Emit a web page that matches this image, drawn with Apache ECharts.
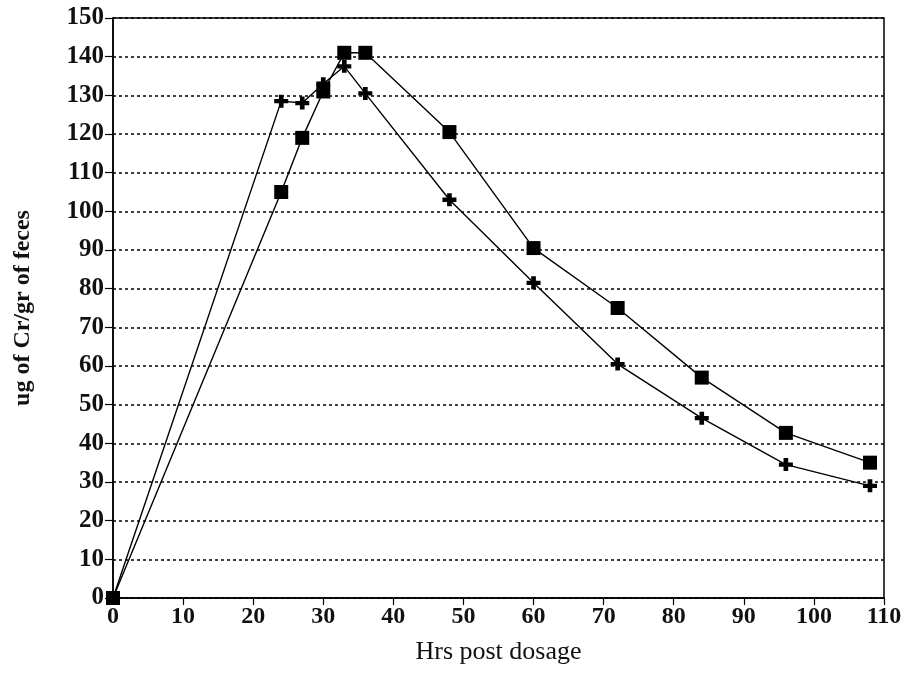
<!DOCTYPE html>
<html>
<head>
<meta charset="utf-8">
<script src="https://cdn.jsdelivr.net/npm/echarts@6/dist/echarts.min.js"></script>
<style>
  html, body { margin: 0; padding: 0; background: #fff; }
  #chart { width: 911px; height: 674px; }
</style>
</head>
<body>
<div id="chart"></div>
<script>
// hours after dosage
const hours = [0, 24, 27, 30, 33, 36, 48, 60, 72, 84, 96, 108];
// square markers
const squareSeries = [0, 105, 119, 131, 141, 141, 120.5, 90.5, 75, 57, 42.7, 35];
// plus markers
const plusSeries = [0, 128.5, 128, 133, 137.5, 130.5, 103, 81.5, 60.5, 46.5, 34.5, 29];

const plusPath = "path://M4,0 H8 V4 H12 V8 H8 V12 H4 V8 H0 V4 H4 Z";
const serif = "'Liberation Serif', 'DejaVu Serif', serif";

const chart = echarts.init(document.getElementById("chart"));

chart.setOption({
  animation: false,
  backgroundColor: "#fff",
  grid: {
    left: 113, right: 27, top: 18, bottom: 76,
    show: true, borderColor: "#000", borderWidth: 1.5
  },
  xAxis: {
    type: "value",
    min: 0, max: 110, interval: 10,
    name: "Hrs post dosage",
    nameLocation: "middle",
    nameGap: 41,
    nameTextStyle: { fontFamily: serif, fontSize: 26, color: "#111" },
    axisLine: { lineStyle: { color: "#000", width: 1.5 } },
    axisTick: { show: true, inside: false, length: 7, lineStyle: { color: "#000", width: 1.2 } },
    axisLabel: { fontFamily: serif, fontWeight: "bold", fontSize: 24, color: "#111", margin: 7 },
    splitLine: { show: false }
  },
  yAxis: {
    type: "value",
    min: 0, max: 150, interval: 10,
    name: "ug of Cr/gr of feces",
    nameLocation: "middle",
    nameGap: 78,
    nameTextStyle: { fontFamily: serif, fontWeight: "bold", fontSize: 24, color: "#111" },
    axisLine: { lineStyle: { color: "#000", width: 1.5 } },
    axisTick: { show: true, inside: false, length: 8, lineStyle: { color: "#000", width: 1.2 } },
    axisLabel: { fontFamily: serif, fontWeight: "bold", fontSize: 25, color: "#111", margin: 9 },
    splitLine: { show: true, lineStyle: { color: "#000", width: 1.5, type: [3, 3] } }
  },
  series: [
    {
      name: "plus",
      type: "line",
      data: hours.map((h, i) => [h, plusSeries[i]]),
      symbol: plusPath,
      symbolSize: [14, 13],
      itemStyle: { color: "#000" },
      lineStyle: { color: "#000", width: 1.4 },
      z: 2
    },
    {
      name: "square",
      type: "line",
      data: hours.map((h, i) => [h, squareSeries[i]]),
      symbol: "rect",
      symbolSize: 14,
      itemStyle: { color: "#000" },
      lineStyle: { color: "#000", width: 1.4 },
      z: 3
    }
  ]
});
</script>
</body>
</html>
